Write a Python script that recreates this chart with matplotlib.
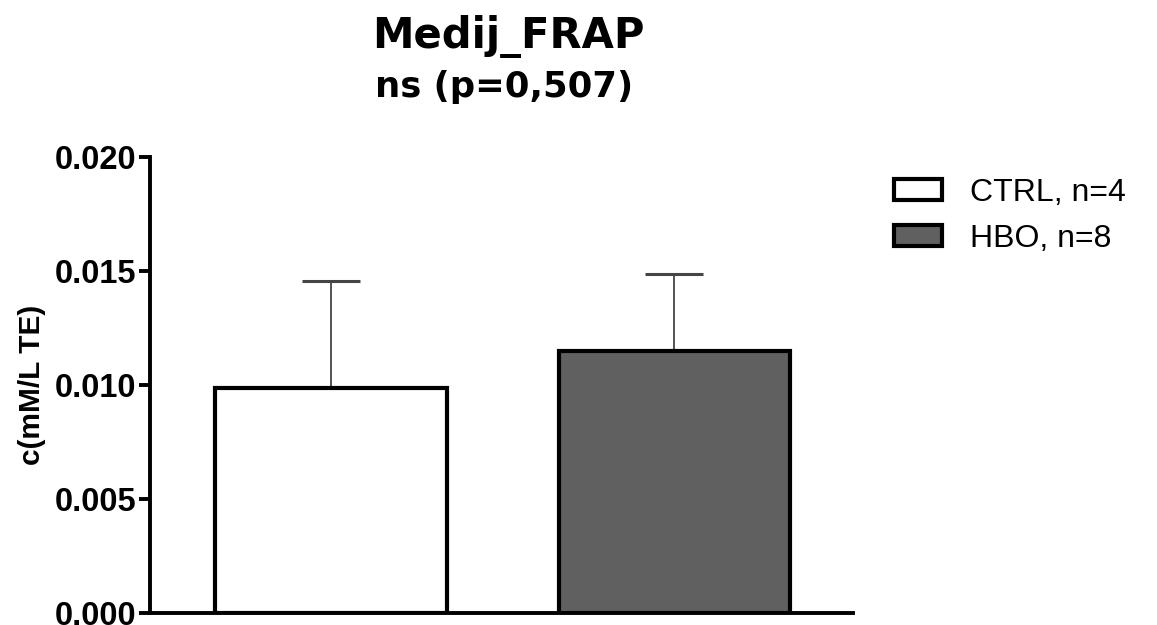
import numpy as np
import matplotlib
matplotlib.use('Agg')
import matplotlib.pyplot as plt

# data
groups = ['CTRL, n=4', 'HBO, n=8']
means = [0.00987, 0.01149]
err_up = [0.01456 - 0.00987, 0.01487 - 0.01149]
colors = ['white', '#606060']
yticks = [0.000, 0.005, 0.010, 0.015, 0.020]

plt.rcParams['font.family'] = ['Liberation Sans', 'DejaVu Sans']

fig = plt.figure(figsize=(11.57, 6.25), dpi=100)
ax = fig.add_axes([150 / 1157, 12 / 625, (853 - 150) / 1157, (613 - 157) / 625])

x = np.arange(len(groups))
ax.errorbar(x, means, yerr=[np.zeros(len(means)), err_up], fmt='none',
            ecolor='#454545', elinewidth=1.3, capsize=21, capthick=2.2, zorder=1)
bars = ax.bar(x, means, width=0.675, color=colors, edgecolor='black',
              linewidth=3, zorder=2, label=None)

ax.set_xlim(-0.527, 1.52)
ax.set_ylim(0, 0.020)
ax.set_yticks(yticks)
ax.set_yticklabels(['%.3f' % v for v in yticks], fontsize=23.5, fontweight='bold')
ax.set_xticks([])
for s in ['top', 'right']:
    ax.spines[s].set_visible(False)
for s in ['left', 'bottom']:
    ax.spines[s].set_linewidth(2.8)
ax.tick_params(axis='y', length=8, width=2.8, pad=2)

ax.set_ylabel('c(mM/L TE)', fontsize=21.5, fontweight='bold', labelpad=6)

fig.text(508 / 1157, 1 - 37 / 625, 'Medij_FRAP', ha='center', va='center',
         fontsize=30, fontweight='bold', family='DejaVu Sans')
fig.text(504 / 1157, 1 - 87 / 625, 'ns (p=0,507)', ha='center', va='center',
         fontsize=25.5, fontweight='bold', family='DejaVu Sans')

leg = ax.legend(bars, groups, loc='upper left', frameon=False,
                bbox_to_anchor=(865 / 1157, 1 - 149 / 625),
                bbox_transform=fig.transFigure, fontsize=23,
                handlelength=1.5, handleheight=0.6, handletextpad=0.9,
                labelspacing=0.5)

fig.savefig('out.png', dpi=100)
